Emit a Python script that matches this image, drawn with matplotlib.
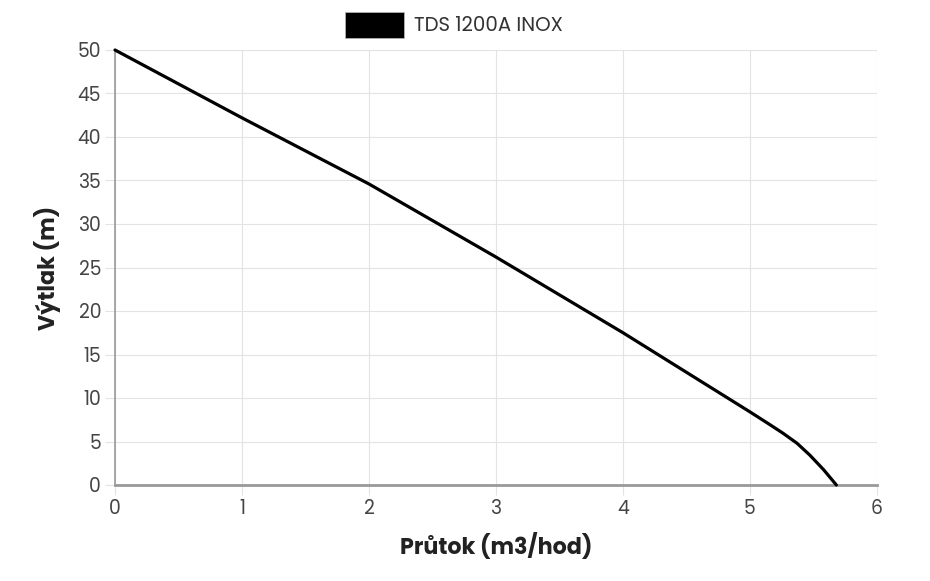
import matplotlib
matplotlib.use('Agg')
import matplotlib.pyplot as plt
from matplotlib.patches import Patch

# pump curve
flow = [0, 1, 2, 3, 4, 5, 5.15, 5.26, 5.37, 5.47, 5.58, 5.68]
head = [50, 42.2, 34.6, 26.2, 17.5, 8.4, 7.0, 5.95, 4.8, 3.45, 1.75, 0]
series_name = 'TDS 1200A INOX'
x_ticks = [0, 1, 2, 3, 4, 5, 6]
y_ticks = [0, 5, 10, 15, 20, 25, 30, 35, 40, 45, 50]

plt.rcParams['font.family'] = ['Poppins', 'Lato', 'DejaVu Sans']

fig = plt.figure(figsize=(9.3, 5.81), dpi=100)
ax = fig.add_axes([115 / 930, 1 - 485 / 581, (877 - 115) / 930, (485 - 50) / 581])

ax.plot(flow, head, color='black', lw=2.3, solid_capstyle='round',
        solid_joinstyle='round', clip_on=False, zorder=3)

ax.set_xlim(0, 6)
ax.set_ylim(0, 50)
ax.set_xticks(x_ticks)
ax.set_yticks(y_ticks)
ax.grid(True, color='#e3e3e3', lw=0.8)
ax.set_axisbelow(True)

for side in ['top', 'right']:
    ax.spines[side].set_visible(False)
ax.spines['left'].set_color('#999999')
ax.spines['left'].set_linewidth(1.2)
ax.spines['bottom'].set_color('#999999')
ax.spines['bottom'].set_linewidth(2)
ax.tick_params(axis='both', colors='#e3e3e3', length=7, width=0.8,
               labelcolor='#444444', labelsize=13.5)
ax.tick_params(axis='y', pad=3)
ax.tick_params(axis='x', pad=3)

ax.set_xlabel('Průtok (m3/hod)', fontsize=16, fontweight='bold', color='#222222', labelpad=10)
ax.set_ylabel('Výtlak (m)', fontsize=16, fontweight='bold', color='#222222', labelpad=12)

handle = Patch(facecolor='black', edgecolor='#bbbbbb', lw=0.5)
fig.legend([handle], [series_name], loc='center', bbox_to_anchor=(454 / 930, 1 - 25 / 581),
           frameon=False, fontsize=14.2, handlelength=3.0, handleheight=1.6,
           handletextpad=0.5, labelcolor='#333333')

fig.savefig('out.png', dpi=100)
